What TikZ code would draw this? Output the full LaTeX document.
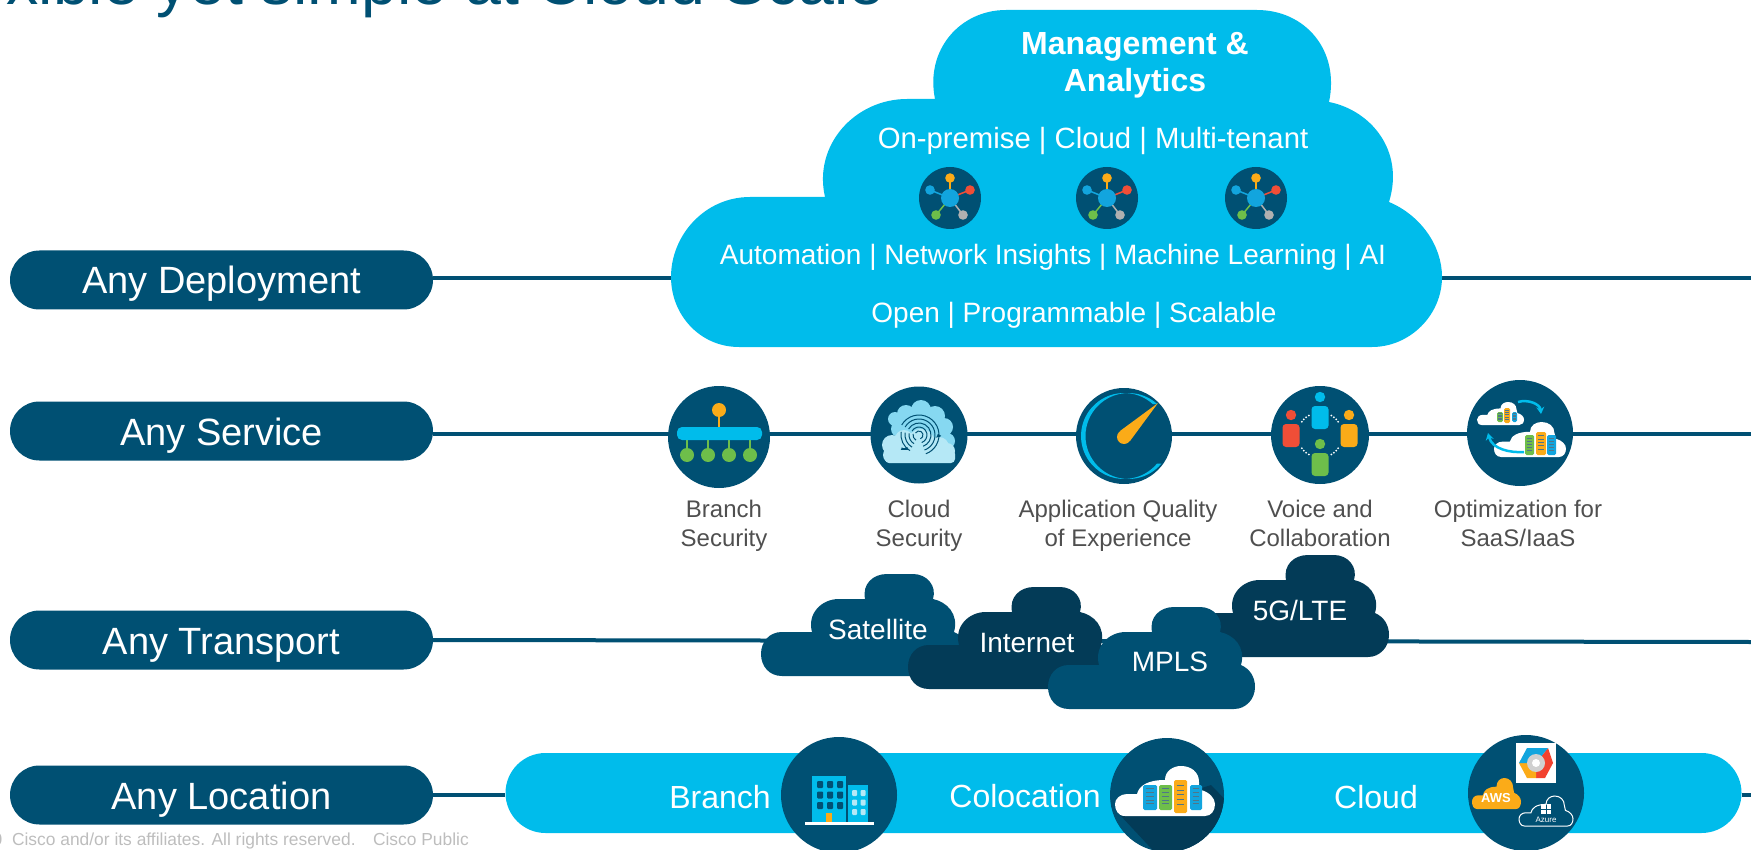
\documentclass[tikz,border=0pt]{standalone}
\usepackage{fontspec}
\setmainfont{Liberation Sans}
\usetikzlibrary{arrows.meta}
\usetikzlibrary{shapes.misc}
\usetikzlibrary{calc}
\definecolor{navy}{HTML}{005073}
\definecolor{deepnavy}{HTML}{033B57}
\definecolor{sky}{HTML}{00BCEB}
\definecolor{hub}{HTML}{12A5DE}
\definecolor{amber}{HTML}{FBAB18}
\definecolor{tomato}{HTML}{F04E37}
\definecolor{leaf}{HTML}{6EBE4A}
\definecolor{ash}{HTML}{B0B0B0}
\definecolor{ink}{HTML}{4F4F4F}
\definecolor{foot}{HTML}{BDBDBD}
\definecolor{pale}{HTML}{B5E8F6}
\definecolor{mist}{HTML}{86D8F1}
\newcommand{\fs}[1]{\fontsize{#1}{#1}\selectfont}
\newcommand{\srvbox}[5]{
    \fill[#5, rounded corners=1.5] (#1,#2) rectangle (#3,#4);
    \foreach \k in {.15,.3,.45,.6,.75}
        \draw[deepnavy!70, line width=.8] ($(#1,#2)!\k!(#1,#4)+(.22*#3-.22*#1,0)$) -- ($(#3,#2)!\k!(#3,#4)-(.22*#3-.22*#1,0)$);
}
\tikzset{
    pill/.style={rounded rectangle, fill=navy, text=white, minimum width=423, minimum height=59, inner sep=0, text height=32, text depth=4, font=\fs{38}},
    wire/.style={navy, line width=4},
    disc/.style={circle, fill=navy, inner sep=0},
    said/.style={text=white, inner sep=0},
    note/.style={text=ink, inner sep=0, align=center, font=\fontsize{24}{29}\selectfont},
    pics/tcloud/.style={code={
        \fill[#1] (21,102) .. controls (8,102) and (0,92) .. (0,80) .. controls (0,68) and (8,58) .. (21,58)
            -- (51,58) .. controls (46,40) and (60,25) .. (78,25) -- (104,25)
            .. controls (101,10) and (112,0) .. (126,0) -- (152,0) .. controls (166,0) and (176,12) .. (172,25)
            .. controls (186,28) and (198,40) .. (193,58) .. controls (202,62) and (207,70) .. (207,80)
            .. controls (207,92) and (198,102) .. (186,102) -- cycle;
    }},
    pics/icloud/.style={code={
        \path[#1] (10,50) .. controls (3,50) and (0,44) .. (0,38) .. controls (0,33) and (5,28) .. (12,28)
            -- (22,28) .. controls (24,20) and (32,14) .. (50,14) .. controls (50,5) and (58,0) .. (66,0)
            .. controls (76,0) and (84,6) .. (84,16) .. controls (84,20) and (84,20) .. (86,24)
            .. controls (94,26) and (100,32) .. (100,38) .. controls (100,45) and (96,50) .. (90,50) -- cycle;
    }}
}

\begin{document}
\begin{tikzpicture}[x=1pt, y=-1pt]
\useasboundingbox (0,0) rectangle (1751,850);
\clip (0,0) rectangle (1751,850);

\node[anchor=base east, text=navy, inner sep=0, font=\fs{64.5}] (head) at (885,5) {Flexible yet simple at Cloud Scale};
\node[anchor=east, text=foot, inner sep=0, font=\fs{17.4}] (legal) at (469,841) {© 2020\ \ Cisco and/or its affiliates. All rights reserved.\ \ \ \,Cisco Public};

\foreach \n/\y/\m in {
    1/280/Any Deployment, 2/431/Any Service, 3/640/Any Transport, 4/795/Any Location}
    \node[pill] (p\n) at (221.5,\y) {\m};

\coordinate (e1) at (1751,278);
\coordinate (e2) at (1751,434);
\coordinate (e3) at (1751,642);
\coordinate (e4) at (1751,795);

\node[rounded rectangle, fill=sky, minimum width=1236, minimum height=80, inner sep=0] (loc) at (1123.5,793) {};

\draw[wire] (p1.east |- e1) -- (e1);
\draw[wire] (p2.east |- e2) -- (e2);
\draw[wire] (p3.east) -- (e3);
\draw[wire] (p4.east) -- (loc.west |- p4.east);
\draw[wire] (loc.east |- e4) -- (e4);

\fill[sky] (739,347) .. controls (700,347) and (671,315) .. (671,277) .. controls (671,235) and (705,197) .. (750,197)
    -- (825,197) .. controls (813,145) and (855,99) .. (907,99) -- (935,99)
    .. controls (925,50) and (960,10) .. (1006,10) -- (1257,10) .. controls (1305,10) and (1340,50) .. (1329,102)
    .. controls (1370,110) and (1405,150) .. (1389,202) .. controls (1420,215) and (1442,245) .. (1442,277)
    .. controls (1442,315) and (1410,347) .. (1372,347) -- cycle;

\node[said, align=center, font=\bfseries\fontsize{32}{37}\selectfont] (mgmt) at (1135,65) {Management \&\\Analytics};
\node[said, font=\fs{29.3}] (t1) at (1093,141) {On-premise | Cloud | Multi-tenant};
\node[said, font=\fs{28}] (t2) at (1053,257) {Automation | Network Insights | Machine Learning | AI};
\node[said, font=\fs{28}] (t3) at (1074,315) {Open | Programmable | Scalable};

\foreach \x in {950,1107,1256} {
    \node[disc, minimum size=62] (m\x) at (\x,198) {};
    \begin{scope}[shift={(\x,198)}]
        \foreach \a/\b/\c in {0/-20/amber, 20/-8/tomato, -20/-8/hub, -14/17/leaf, 13/17/ash} {
            \draw[\c, line width=1.5] (0,0) -- (\a,\b);
            \fill[\c] (\a,\b) circle (4.8);
        }
        \fill[hub] (0,0) circle (9);
    \end{scope}
}

\node[disc, minimum size=102] (s1) at (719,437) {};
\draw[amber, line width=2] (719,410) -- (719,430);
\fill[amber] (719,410) circle (7);
\foreach \x in {687,708,729,750} {
    \draw[leaf, line width=1.5] (\x,438) -- (\x,455);
    \fill[leaf] (\x,455) circle (7);
}
\fill[sky, rounded corners=5] (677,427) rectangle (762,440);

\node[disc, minimum size=97] (s2) at (919,435) {};
\foreach \a/\b/\c in {2/-25/10, -13/-21/9, -24/-16/7, 16/-19/10, 25/-8/9, 28/6/8, -20/-6/8, 0/-8/20}
    \fill[mist] (919+\a,435+\b) circle (\c);
\foreach \a/\b/\c in {-27/10/10, -15/4/9, 2/8/14, 20/12/10, 28/16/8, -28/20/8}
    \fill[pale] (919+\a,435+\b) circle (\c);
\fill[pale, rounded corners=4] (885,450) rectangle (955,463);
\foreach \r in {4,8,12,16,20}
    \draw[navy, line width=1] (919,435) ++(-150:\r) arc[start angle=-150, end angle=70, radius=\r];
\foreach \r in {6,10,14,18}
    \draw[navy, line width=1] (919,435) ++(120:\r) arc[start angle=120, end angle=190, radius=\r];

\node[disc, minimum size=96] (s3) at (1124,436) {};
\fill[sky] (1124,436) ++(-48:43) arc[start angle=-48, end angle=-320, radius=43]
    -- ($(1128.5,436)+(40:43)$) arc[start angle=-320, end angle=-48, radius=43] -- cycle;
\fill[amber] (1158,403) -- (1120,431) -- (1130,441) -- cycle;
\fill[amber] (1124,437) circle (7);

\node[disc, minimum size=98] (s4) at (1320,435) {};
\foreach \x/\y/\c in {1320/406/sky, 1291/424/tomato, 1349/424/amber, 1320/453/leaf} {
    \fill[\c] (\x,\y-9) circle (5.2);
    \fill[\c, rounded corners=3.5] (\x-8.5,\y) rectangle (\x+8.5,\y+23);
}
\foreach \a in {36,44,52,60,120,128,136,144,216,224,232,240,300,308,316,324}
    \fill[white] (1320,435) ++(\a:22.5) circle (1);

\node[disc, minimum size=106] (s5) at (1520,433) {};
\pic[xscale=.47, yscale=.46] at (1477,402) {icloud={fill=white}};
\pic[xscale=.72, yscale=.7] at (1494,422) {icloud={fill=white}};
\srvbox{1497}{412}{1503}{422}{leaf}
\srvbox{1504}{408}{1510}{423}{amber}
\srvbox{1512}{412}{1517}{422}{hub}
\srvbox{1525}{435}{1534}{455}{leaf}
\srvbox{1536}{432}{1546}{455}{amber}
\srvbox{1547}{435}{1556}{455}{hub}
\draw[sky, line width=2.5, -{Stealth[length=7,width=8]}] (1518,402) .. controls (1528,399) and (1540,404) .. (1541,414);
\draw[sky, line width=2.5, -{Stealth[length=7,width=8]}] (1524,452) .. controls (1510,453) and (1492,449) .. (1488,433);

\foreach \i/\x/\y/\c in {
    4/1182/555/deepnavy, 1/761/574/navy, 2/908/587/deepnavy, 3/1048/607/navy}
    \pic at (\x,\y) {tcloud={\c}};
\node[said, font=\fs{28}] (c1) at (878,629) {Satellite};
\node[said, font=\fs{28}] (c2) at (1027,643) {Internet};
\node[said, font=\fs{28}] (c3) at (1170,662) {MPLS};
\node[said, font=\fs{28}] (c4) at (1300,610) {5G/LTE};

\node[said, font=\fs{32}] (l1) at (720,797) {Branch};
\node[said, font=\fs{32}] (l2) at (1025,796) {Colocation};
\node[said, font=\fs{32}] (l3) at (1376,797) {Cloud};

\node[disc, minimum size=116] (b1) at (839,795) {};
\fill[sky] (812,776) rectangle (846,822);
\fill[sky] (848,785) rectangle (868,822);
\foreach \x in {0,1,2} \foreach \y in {0,1,2}
    \fill[navy, rounded corners=1] (817+\x*10,781+\y*10.5) rectangle ++(6,7);
\foreach \x in {0,1} \foreach \y in {0,1,2}
    \fill[pale, rounded corners=1] (852+\x*8.5,790+\y*9.5) rectangle ++(5,6);
\fill[amber] (825.5,813) rectangle (832,822);
\fill[white] (805,822) rectangle (874,824.5);

\node[disc, minimum size=114] (b2) at (1167,795) {};
\begin{scope}
    \clip (1167,795) circle (57);
    \fill[deepnavy] (1120,815) -- (1190,890) -- (1240,850) -- (1240,815) -- (1211,785) -- cycle;
\end{scope}
\pic at (1115,766) {icloud={fill=white}};
\srvbox{1143}{785}{1157}{810}{hub}
\srvbox{1159}{785}{1172}{810}{leaf}
\srvbox{1174}{780}{1187}{813}{amber}
\srvbox{1190}{785}{1202}{810}{hub}

\node[disc, minimum size=116] (b3) at (1526,793) {};
\fill[white] (1516,743) rectangle (1556,783);
\fill[tomato!85!red] (1536,763) -- (1548,748) -- (1553,763) -- (1545,778) -- (1536,778) -- cycle;
\fill[amber] (1536,763) -- (1536,778) -- (1527,778) -- (1519,763) -- cycle;
\fill[hub] (1536,763) -- (1519,763) -- (1527,748) -- (1548,748) -- cycle;
\fill[ash!60] (1536,763) circle (9);
\fill[white] (1536,763) circle (4);
\pic[xscale=.49, yscale=.62] at (1472,778) {icloud={fill=amber}};
\node[said, font=\bfseries\fs{13}] (aws) at (1496,798) {AWS};
\pic[xscale=.54, yscale=.6] at (1519,796) {icloud={draw=white, line width=1}};
\foreach \x/\y in {1541/804, 1546.5/804, 1541/809.5, 1546.5/809.5}
    \fill[white] (\x,\y) rectangle ++(4.5,4.5);
\node[said, font=\fs{8}] (az) at (1546,820) {Azure};

\node[note] (n1) at (724,526) {Branch\\Security};
\node[note] (n2) at (919,526) {Cloud\\Security};
\node[note] (n3) at (1118,526) {Application Quality\\of Experience};
\node[note] (n4) at (1320,523) {Voice and\\Collaboration};
\node[note] (n5) at (1518,523) {Optimization for\\SaaS/IaaS};

\end{tikzpicture}
\end{document}
